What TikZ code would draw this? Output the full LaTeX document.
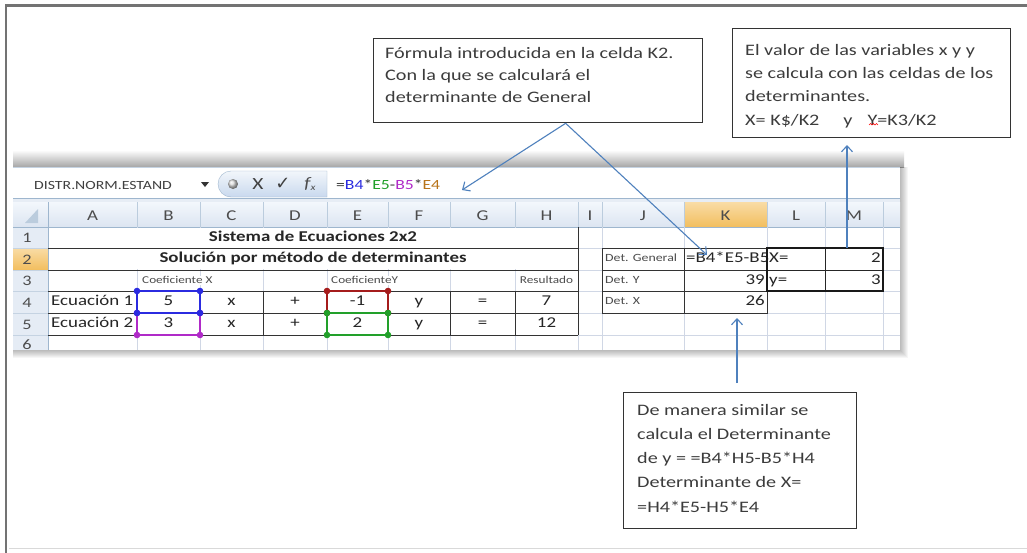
\documentclass[tikz,border=0pt]{standalone}
\usepackage{fontspec}
\setmainfont[FakeStretch=1.26]{Carlito}
\newfontfamily\symfont{DejaVu Sans}
\usetikzlibrary{arrows.meta}
\definecolor{arrowblue}{HTML}{4F81BD}
\definecolor{gridc}{HTML}{D0D7E5}
\definecolor{hdrtop}{HTML}{F3F7FC}
\definecolor{hdrbot}{HTML}{DCE5F1}
\definecolor{hdrline}{HTML}{9EB6CE}
\definecolor{orgtop}{HTML}{F9DCA6}
\definecolor{orgbot}{HTML}{F2BE5E}
\definecolor{txtgray}{HTML}{3C3C3C}
\definecolor{hdrtxt}{HTML}{4C4C4C}
\definecolor{selblue}{HTML}{2B2BE0}
\definecolor{selpurple}{HTML}{B02AC8}
\definecolor{selred}{HTML}{A51C1C}
\definecolor{selgreen}{HTML}{22A02A}
\definecolor{fmlorange}{HTML}{B8741A}
\definecolor{pilltop}{HTML}{F2F6FB}
\definecolor{pillbot}{HTML}{C9D9EE}
\begin{document}
\begin{tikzpicture}[x=1pt,y=-1pt,
  cbox/.style={draw=black!80, line width=1.3pt, fill=white, inner sep=0pt, anchor=north west},
  ctext/.style={anchor=north west, inner sep=0pt, align=left, text=txtgray},
  arr/.style={draw=arrowblue, line width=1.1pt, -{Straight Barb[length=6pt,width=11pt]}},
  cell/.style={inner sep=0pt, text height=10.5pt, text depth=3pt, font=\fontsize{15}{18}\selectfont, text=black!85},
  bcell/.style={inner sep=0pt, text height=10.5pt, text depth=3pt, font=\fontsize{15}{18}\selectfont\bfseries, text=black!85},
  small/.style={inner sep=0pt, text height=7.5pt, text depth=2pt, font=\fontsize{10.5}{12}\selectfont, text=black!70},
  colhdr/.style={inner sep=0pt, text height=10pt, text depth=0pt, font=\fontsize{15}{18}\selectfont, text=hdrtxt},
  rowhdr/.style={inner sep=0pt, text height=10pt, text depth=0pt, font=\fontsize{14.5}{18}\selectfont, text=hdrtxt},
  dark/.style={draw=black!80, line width=0.9pt},
]
\useasboundingbox (0,0) rectangle (1027,552);
\fill[white] (0,0) rectangle (1027,552);
% outer frame
\draw[black!15, line width=0.8pt] (9,548) -- (1030,548);
\draw[black!55, line width=2.2pt] (6,553) -- (6,5.5) -- (1030,5.5);

% screenshot shadows
\shade[top color=white, bottom color=black!35] (13,150) rectangle (904,167);
\foreach \d in {1,...,8}{
  \fill[black, opacity=0.035] (13,167) rectangle (900+\d,350+\d);
}

\begin{scope}
\clip (13,167) rectangle (900,350);
\fill[white] (13,167) rectangle (900,350);
% formula bar
\draw[hdrline!60, line width=0.8pt] (13,167.5) -- (900,167.5);
\fill[hdrbot!70] (13,198) rectangle (900,202);
\draw[hdrline] (13,198) -- (900,198);
\node[inner sep=0pt, font=\fontsize{12.5}{14}\selectfont, text=black!75, anchor=west] (namebox) at (34,185) {DISTR.NORM.ESTAND};
\fill[black!80] (201,182) -- (209,182) -- (205,187) -- cycle;
\shade[top color=pilltop, bottom color=pillbot, draw=hdrline] (327,171) -- (231,171) arc[start angle=270, end angle=90, radius=13] -- (327,197) -- cycle;
\shade[ball color=black!15] (233,184) circle (5);
\node[inner sep=0pt, font=\fontsize{17}{18}\selectfont, text=black!75] (cancelx) at (258,184) {X};
\node[inner sep=0pt, font=\symfont\fontsize{18}{18}\selectfont, text=black!75] (okmark) at (283,184) {✓};
\node[inner sep=0pt, text=black!70] (fxicon) at (310,184) {{\fontsize{16}{18}\selectfont\itshape f}{\fontsize{9}{9}\selectfont\itshape\raisebox{-1.5pt}{x}}};
\node[inner sep=0pt, anchor=west, font=\fontsize{14}{16}\selectfont] (fml) at (336,185)
  {\textcolor{black!80}{=}\textcolor{selblue}{B4}\textcolor{black!80}{*}\textcolor{selgreen}{E5}\textcolor{black!80}{-}\textcolor{selpurple}{B5}\textcolor{black!80}{*}\textcolor{fmlorange}{E4}};

% header row and row header column
\shade[top color=hdrtop, bottom color=hdrbot] (13,202) rectangle (900,227);
\shade[top color=orgtop, bottom color=orgbot] (684,202) rectangle (767,227);
\fill[hdrtop!40!hdrbot] (13,227) rectangle (48,350);
\shade[top color=orgtop, bottom color=orgbot] (13,248) rectangle (48,270);
\fill[hdrline!70] (38,209) -- (38,223) -- (25,223) -- cycle;
\foreach \x in {48,137,200,263,327,388,450,515,578,602,684,767,825,883}
  \draw[hdrline!70] (\x,202) -- (\x,227);
\draw[hdrline] (13,227) -- (900,227);
\draw[hdrline] (48,202) -- (48,350);
\foreach \y in {248,270,291,313,335}
  \draw[hdrline!60] (13,\y) -- (48,\y);
\foreach \l/\x in {A/92.5,B/168.5,C/231.5,D/295,E/357.5,F/419,G/482.5,H/546.5,I/590,J/643,K/725.5,L/796,M/854}
  \node[colhdr] (h\l) at (\x,215) {\l};
\foreach \n/\y in {1/237.5,2/259,3/280.5,4/302,5/324,6/344}
  \node[rowhdr] (r\n) at (27,\y) {\n};

% gridlines
\foreach \x in {137,200,263,327,388,450,515,578,602,684,767,825,883}
  \draw[gridc] (\x,227) -- (\x,350);
\foreach \y in {248,270,291,313,335}
  \draw[gridc] (48,\y) -- (900,\y);
\fill[white] (48.6,227.6) rectangle (577.4,269.4);

% cell texts
\node[bcell] (t1) at (313,237.5) {Sistema de Ecuaciones 2x2};
\node[bcell] (t2) at (313,259) {Solución por método de determinantes};
\node[small, fill=white, anchor=west] (b3) at (142,280.5) {Coeficiente X};
\node[small, fill=white, anchor=west] (e3) at (331,280.5) {CoeficienteY};
\node[small] (h3) at (546.5,280.5) {Resultado};
\node[cell, anchor=west] (a4) at (51,302) {Ecuación 1};
\node[cell] (b4) at (168.5,302) {5};
\node[cell] (c4) at (231.5,302) {x};
\node[cell] (d4) at (295,302) {+};
\node[cell] (e4) at (357.5,302) {-1};
\node[cell] (f4) at (419,302) {y};
\node[cell] (g4) at (482.5,302) {=};
\node[cell] (h4) at (546.5,302) {7};
\node[cell, anchor=west] (a5) at (51,324) {Ecuación 2};
\node[cell] (b5) at (168.5,324) {3};
\node[cell] (c5) at (231.5,324) {x};
\node[cell] (d5) at (295,324) {+};
\node[cell] (e5) at (357.5,324) {2};
\node[cell] (f5) at (419,324) {y};
\node[cell] (g5) at (482.5,324) {=};
\node[cell] (h5) at (546.5,324) {12};
\node[small, anchor=west, font=\fontsize{11}{12}\selectfont] (j2) at (605,259) {Det. General};
\node[small, anchor=west, font=\fontsize{11}{12}\selectfont] (j3) at (605,280.5) {Det. Y};
\node[small, anchor=west, font=\fontsize{11}{12}\selectfont] (j4) at (605,302) {Det. X};
\node[cell, anchor=west] (k2t) at (686,259) {=B4*E5-B5};
\node[cell, anchor=east] (k3) at (765,280.5) {39};
\node[cell, anchor=east] (k4t) at (765,302) {26};
\node[cell, anchor=west] (l2) at (769,259) {X=};
\node[cell, anchor=west] (l3) at (769,280.5) {y=};
\node[cell, anchor=east] (m2t) at (881,259) {2};
\node[cell, anchor=east] (m3) at (881,280.5) {3};

% named cell areas
\node[inner sep=0pt, minimum width=83pt, minimum height=22pt, anchor=north west] (k2) at (684,248) {};
\node[inner sep=0pt, minimum width=83pt, minimum height=22pt, anchor=north west] (k4) at (684,291) {};
\node[inner sep=0pt, minimum width=58pt, minimum height=22pt, anchor=north west] (m2) at (825,248) {};

% dark borders
\draw[dark] (48,248) -- (578,248);
\draw[dark] (48,270) -- (578,270);
\draw[dark] (578,227) -- (578,335);
\foreach \y in {291,313,335} \draw[dark] (48,\y) -- (578,\y);
\foreach \x in {137,200,263,327,388,450,515} \draw[dark] (\x,291) -- (\x,335);
\draw[dark] (602,248) rectangle (767,313);
\draw[dark] (602,270) -- (767,270);
\draw[dark] (602,291) -- (767,291);
\draw[dark] (684,248) -- (684,313);
\draw[black!85, line width=0.9pt] (767,270) -- (883,270);
\draw[black!85, line width=0.9pt] (825,248) -- (825,291);
\draw[black!90, line width=1.9pt] (767,248) rectangle (883,291);

% selection boxes
\foreach \c/\x/\y/\X/\Y in {selpurple/137/313/200/335, selblue/137/291/200/313, selred/327/291/388/313, selgreen/327/313/388/335}{
  \draw[\c, line width=1.4pt] (\x,\y) rectangle (\X,\Y);
  \fill[\c] (\x,\y) circle (3.3);
  \fill[\c] (\X,\y) circle (3.3);
  \fill[\c] (\x,\Y) circle (3.3);
  \fill[\c] (\X,\Y) circle (3.3);
}
\end{scope}

% callouts
\node[cbox, minimum width=329pt, minimum height=84pt] (c1) at (373,38) {};
\node[ctext, font=\fontsize{16}{22}\selectfont] (c1t) at (385,47) {Fórmula introducida en la celda K2.\\Con la que se calculará el\\determinante de General};

\node[cbox, minimum width=278pt, minimum height=109pt] (c2) at (732,28) {};
\node[ctext, font=\fontsize{16}{23.3}\selectfont] (c2t) at (745,44) {El valor de las variables x y y\\se calcula con las celdas de los\\determinantes.\\X= K\$/K2\hspace{24pt}y\hspace{15pt}Y=K3/K2};
\draw[red, line width=0.6pt] (869,125) -- (870.5,123.5) -- (872,125) -- (873.5,123.5) -- (875,125) -- (876.5,123.5) -- (878,125);

\node[cbox, minimum width=233pt, minimum height=136pt] (c3) at (623,392) {};
\node[ctext, font=\fontsize{16}{24.2}\selectfont] (c3t) at (637,404) {De manera similar se\\calcula el Determinante\\de y = =B4*H5-B5*H4\\Determinante de X=\\=H4*E5-H5*E4};

% connectors
\coordinate (fmltip) at (462,190);
\coordinate (k2tip) at (707,255);
\coordinate (c2tip) at (847,145);
\coordinate (c3start) at (737,383);
\coordinate (k4tip) at (737,318);
\draw[arr] ([xshift=27.5pt]c1.south) -- (fmltip);
\draw[arr] ([xshift=27.5pt]c1.south) -- (k2tip);
\draw[arr] (m2.north -| c2tip) -- (c2tip);
\draw[arr] (c3start) -- (k4tip);
\end{tikzpicture}
\end{document}
